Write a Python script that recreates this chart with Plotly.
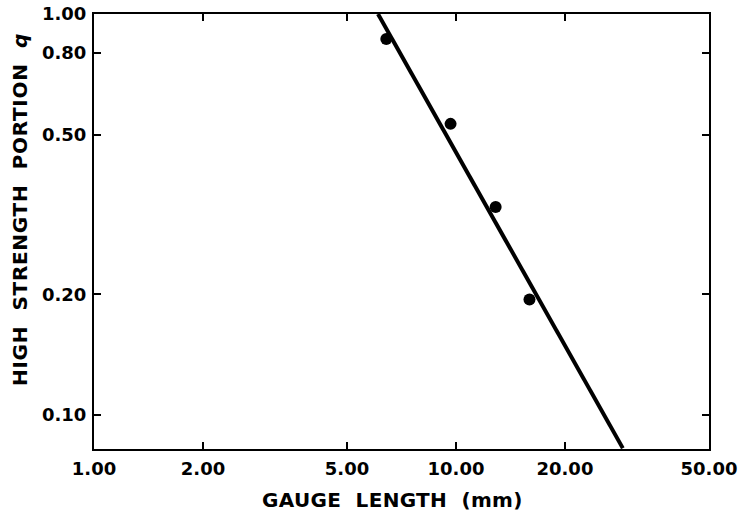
import math
import plotly.graph_objects as go

# Measured high-strength portion versus gauge length
gauge_mm = [6.42, 9.66, 12.87, 15.96]
portion_q = [0.866, 0.532, 0.330, 0.194]

# Fitted power-law line (end points)
fit_mm = [6.09, 28.9]
fit_q = [1.0, 0.0826]

x_ticks = [1, 2, 5, 10, 20, 50]
x_labels = ["1.00", "2.00", "5.00", "10.00", "20.00", "50.00"]
y_ticks = [0.1, 0.2, 0.5, 0.8, 1.0]
y_labels = ["0.10", "0.20", "0.50", "0.80", "1.00"]

FONT = "DejaVu Sans"
L, R, T, B = 94, 29, 14, 66
W, H = 738, 515
PW, PH = W - L - R, H - T - B

fig = go.Figure()
fig.add_trace(go.Scatter(
    x=fit_mm, y=fit_q, mode="lines",
    line=dict(color="black", width=4),
    showlegend=False,
))
fig.add_trace(go.Scatter(
    x=gauge_mm, y=portion_q, mode="markers",
    marker=dict(color="black", size=12),
    showlegend=False,
))

axis_common = dict(
    showgrid=False, zeroline=False,
    showline=True, linecolor="black", linewidth=2,
    mirror="ticks", ticks="inside", ticklen=7, tickwidth=2, tickcolor="black",
    tickfont=dict(family=FONT, size=18, color="black", weight="bold"),
)

fig.update_xaxes(
    type="log", range=[0, math.log10(50)],
    tickvals=x_ticks, ticktext=x_labels,
    ticklabelstandoff=2,
    **axis_common,
)
fig.update_yaxes(
    type="log", range=[math.log10(0.0822), 0],
    tickvals=y_ticks, ticktext=y_labels,
    ticklabelstandoff=2,
    **axis_common,
)

title_font = dict(family=FONT, size=20, color="black", weight="bold")

# Axis titles placed as annotations (paper coordinates from pixel offsets)
fig.add_annotation(
    text='<span style="letter-spacing:0.3px">GAUGE  LENGTH  (mm)</span>',
    xref="paper", yref="paper",
    x=(392.5 - L) / PW, y=(H - B - 500) / PH,
    xanchor="center", yanchor="middle",
    showarrow=False, font=title_font,
)
fig.add_annotation(
    text='<span style="letter-spacing:0.7px">HIGH  STRENGTH  PORTION  <i>q</i></span>',
    xref="paper", yref="paper",
    x=(20 - L) / PW, y=(H - B - 210) / PH,
    xanchor="center", yanchor="middle", textangle=-90,
    showarrow=False, font=title_font,
)

fig.update_layout(
    width=W, height=H,
    margin=dict(l=L, r=R, t=T, b=B, autoexpand=False),
    paper_bgcolor="white", plot_bgcolor="white",
)

fig.write_html("out.html")
